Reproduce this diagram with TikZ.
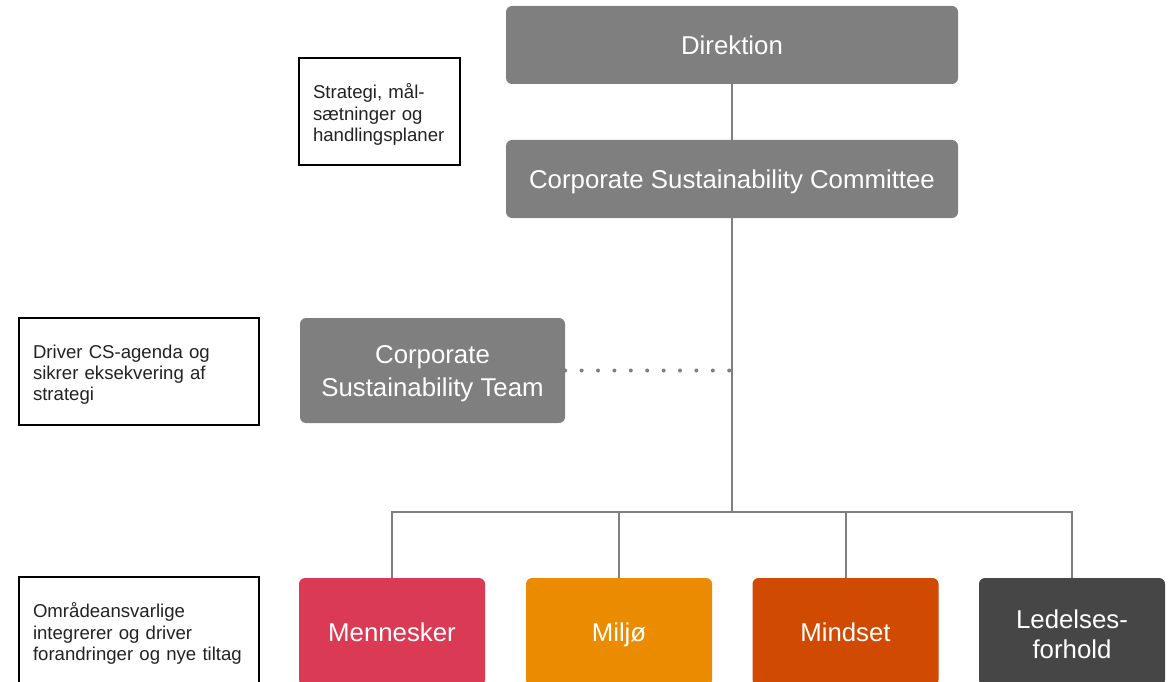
\documentclass[tikz,border=0pt]{standalone}
\usepackage{fontspec}
\setmainfont{Liberation Sans}
\definecolor{boxgray}{HTML}{7F7F7F}
\definecolor{linegray}{HTML}{7F7F7F}
\definecolor{cred}{HTML}{DB3A55}
\definecolor{corange}{HTML}{EB8C00}
\definecolor{crust}{HTML}{D04A02}
\definecolor{cdark}{HTML}{464646}
\definecolor{notetext}{HTML}{222222}
\begin{document}
\begin{tikzpicture}[x=1pt,y=-1pt,
  orgbox/.style={rectangle, rounded corners=6pt, fill=#1, text=white, align=center,
    inner sep=0pt, font=\fontsize{25.8}{33}\selectfont},
  oneline/.style={text height=18.5pt, text depth=0pt},
  notebox/.style={rectangle, draw=black, line width=1.2pt, align=left, inner xsep=14pt,
    inner ysep=0pt, minimum height=107pt, text=notetext, font=\fontsize{18.6}{21.3}\selectfont},
  conn/.style={draw=linegray, line width=2pt},
  dotconn/.style={draw=linegray, line width=4pt, line cap=round, dash pattern=on 0pt off 16.4pt}
]
\useasboundingbox (0,0) rectangle (1168,682);
\clip (0,0) rectangle (1168,682);

% org boxes
\node[orgbox=boxgray, oneline, minimum width=452pt, minimum height=78pt] (dir) at (732,45) {Direktion};
\node[orgbox=boxgray, oneline, minimum width=452pt, minimum height=78pt] (csc) at (732,179) {Corporate Sustainability Committee};
\node[orgbox=boxgray, minimum width=265pt, minimum height=105pt] (cst) at (432.5,370.5) {};
\node[font=\fontsize{25.8}{33}\selectfont, text=white, align=center, inner sep=0pt] (cstt) at (432.5,374) {Corporate\\Sustainability Team};

\node[orgbox=cred, oneline, minimum width=186pt, minimum height=108pt] (men) at (392,632) {Mennesker};
\node[orgbox=corange, oneline, minimum width=186pt, minimum height=108pt] (mil) at (619,632) {Miljø};
\node[orgbox=crust, oneline, minimum width=186pt, minimum height=108pt] (mind) at (845.5,632) {Mindset};
\node[orgbox=cdark, minimum width=186pt, minimum height=108pt] (led) at (1072,632) {};
\node[font=\fontsize{25.8}{30}\selectfont, text=white, align=center, inner sep=0pt] (ledt) at (1072,634) {Ledelses-\\forhold};

% note boxes
\node[notebox, text width=133pt] (n1) at (379.5,111.5) {\parbox{133pt}{\vspace*{6pt}Strategi, mål-\\sætninger og\\handlingsplaner}};
\node[notebox, text width=212pt] (n2) at (139,371.5) {\parbox{212pt}{\vspace*{6pt}Driver CS-agenda og\\sikrer eksekvering af\\strategi}};
\node[notebox, text width=212pt] (n3) at (139,630.5) {\parbox{212pt}{\vspace*{6pt}Områdeansvarlige\\integrerer og driver\\forandringer og nye tiltag}};

% connectors
\coordinate (bus) at (732,512);
\draw[conn] (dir.south) -- (csc.north);
\draw[conn] (csc.south) -- (bus);
\draw[conn] (bus) -| (men.north);
\draw[conn] (bus) -| (mil.north);
\draw[conn] (bus) -| (mind.north);
\draw[conn] (bus) -| (led.north);
\coordinate (dotend) at (cst.east -| csc.south);
\draw[dotconn] (cst.east) -- (dotend);
\end{tikzpicture}
\end{document}
